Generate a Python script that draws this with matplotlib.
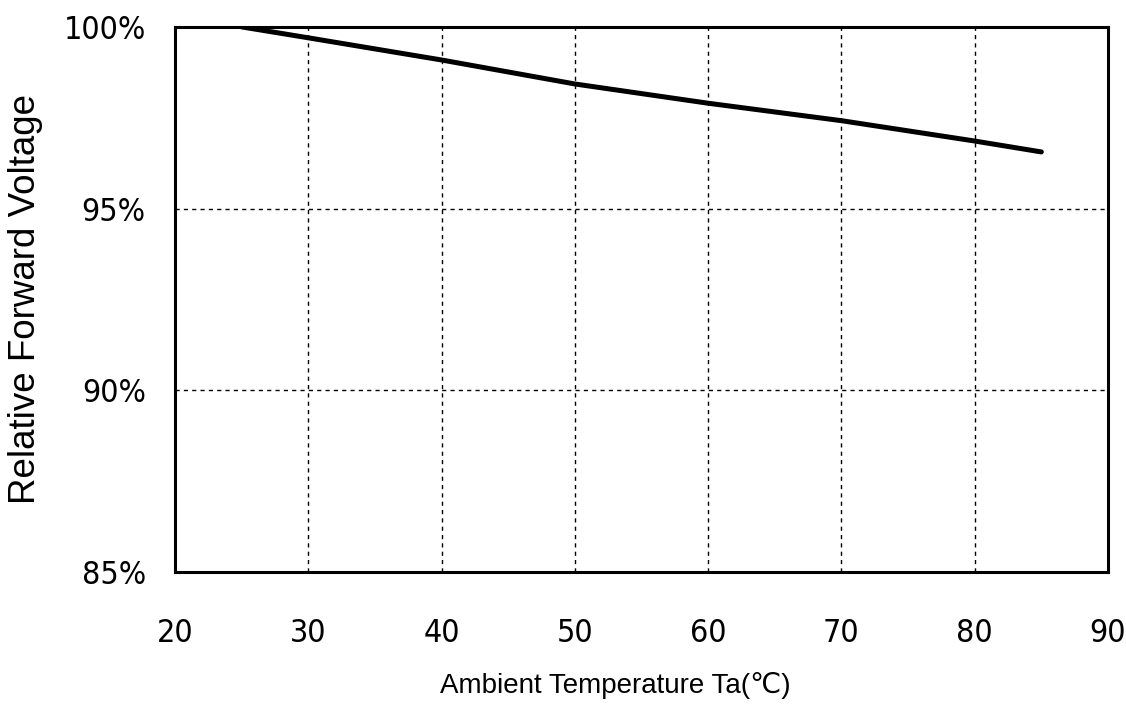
import numpy as np
import matplotlib.pyplot as plt

# data
temp = [25, 30, 40, 50, 60, 70, 80, 85]
rel_vf = [100.0, 99.70, 99.09, 98.43, 97.90, 97.42, 96.86, 96.56]

x_ticks = [20, 30, 40, 50, 60, 70, 80, 90]
y_ticks = [85, 90, 95, 100]
y_labels = ["85%", "90%", "95%", "100%"]

tick_font = ["DejaVu Sans"]
label_font = ["Liberation Sans", "DejaVu Sans"]

fig = plt.figure(figsize=(11.26, 7.08), dpi=100)
ax = fig.add_axes([0.1554, 0.192, 0.8286, 0.770])

ax.plot(temp, rel_vf, color="black", linewidth=3.6, solid_capstyle="round")

ax.set_xlim(20, 90)
ax.set_ylim(85, 100)
ax.set_xticks(x_ticks)
ax.set_yticks(y_ticks)
ax.set_yticklabels(y_labels)
ax.grid(True, color="black", linestyle=(0, (3, 3)), linewidth=1.0)

for lab in ax.get_xticklabels() + ax.get_yticklabels():
    lab.set_family(tick_font)
    lab.set_fontstretch("condensed")
    lab.set_fontweight("light")
    lab.set_fontsize(23)
    lab.set_color("black")

ax.tick_params(axis="both", length=0)
ax.tick_params(axis="x", pad=33)
ax.tick_params(axis="y", pad=21)

for s in ax.spines.values():
    s.set_linewidth(2.2)
    s.set_color("black")

ax.set_xlabel("Ambient Temperature Ta(℃)", family=label_font, fontsize=20)
ax.set_ylabel("Relative Forward Voltage", family=label_font, fontsize=26.5)
ax.xaxis.set_label_coords(0.4716, -0.183)
ax.yaxis.set_label_coords(-0.1415, 0.5)

plt.savefig("out.png", dpi=100)
